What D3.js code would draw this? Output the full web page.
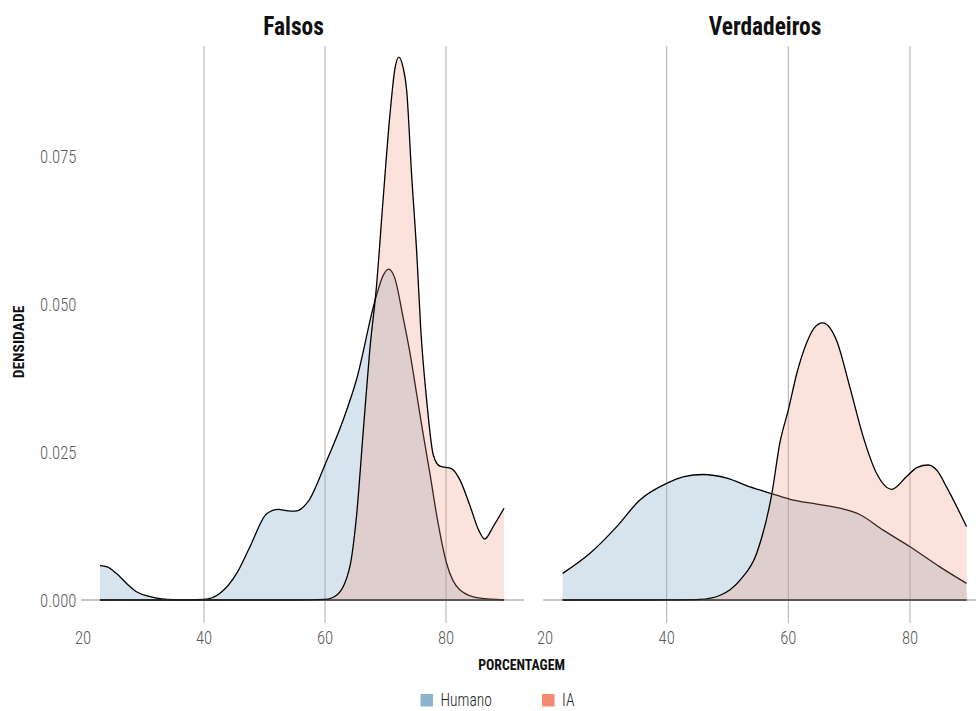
<!DOCTYPE html>
<html><head><meta charset="utf-8">
<script src="https://cdn.jsdelivr.net/npm/d3@7"></script>
<style>
body{margin:0;background:#fff;}
text{font-family:"Roboto Condensed",Roboto,"Liberation Sans Narrow",sans-serif;}
</style></head>
<body><svg id="c" width="976" height="711"></svg>
<script>
const panels = ["Falsos", "Verdadeiros"];
const groups = ["Humano", "IA"];
const groupColors = ["#8eb3cc", "#f58a72"];
const xTicks = [20, 40, 60, 80];
const yTicks = [0, 0.025, 0.05, 0.075];

// Falsos – Humano density
const falsosHumanoX = [22.8,24,25.5,27.2,29,31.1,33,35,37,40,42.6,45.4,47.6,50.4,52.3,53.6,55.0,57.2,60.1,63.0,65.2,68.3,69.6,70.5,71.5,72.9,74.0,75.2,76.2,77.4,78.5,80.1,82.3,85.6,89.6];
const falsosHumanoY = [0.0058,0.0056,0.0045,0.0028,0.0013,0.00056,0.0002,0.00005,0.00003,0.0001,0.0011,0.0045,0.009,0.0146,0.0153,0.0151,0.0150,0.0166,0.0231,0.0304,0.0372,0.0507,0.0548,0.0559,0.0545,0.0478,0.0420,0.0345,0.0282,0.0210,0.0141,0.0062,0.0017,0.0003,0.00002];
// Falsos – IA density
const falsosIAX = [22.8,40,55,60,61.9,64.1,65.2,66.3,67.4,68.5,69.6,70.7,71.6,72.2,72.9,73.5,74.3,75.2,75.8,76.8,77.9,79.0,80.9,82.3,84.0,85.4,86.4,87.8,89.6];
const falsosIAY = [0,0,0,0.0001,0.0008,0.0056,0.0141,0.0282,0.0422,0.0529,0.0676,0.0816,0.0900,0.0917,0.0900,0.0861,0.0721,0.058,0.0462,0.0338,0.0245,0.0226,0.0222,0.0203,0.0158,0.0118,0.0103,0.0124,0.0155];
// Verdadeiros – Humano density
const verdHumanoX = [22.9,27.4,31.8,35.6,40.0,42.7,46.0,49.9,53.7,57.5,60.3,64.7,68.5,71.8,75.6,80.0,84.9,89.3];
const verdHumanoY = [0.0045,0.0079,0.0124,0.0169,0.0197,0.0208,0.0212,0.0206,0.0191,0.0179,0.0170,0.0162,0.0155,0.0144,0.0118,0.0090,0.0056,0.0028];
// Verdadeiros – IA density
const verdIAX = [22.9,35,42,45.5,48.8,52.1,54.8,57.3,58.6,60.0,61.4,63.0,64.3,65.6,66.8,67.9,70.1,72.3,74.5,77.0,79.4,81.2,83.0,84.5,86.0,89.3];
const verdIAY = [0,0,0.00003,0.0001,0.0008,0.0034,0.0079,0.018,0.0265,0.0321,0.0383,0.0434,0.0460,0.0468,0.0460,0.0439,0.0360,0.0276,0.0214,0.0187,0.0208,0.0224,0.0228,0.0218,0.0191,0.0124];

const series = [
  [d3.zip(falsosHumanoX, falsosHumanoY), d3.zip(falsosIAX, falsosIAY)],
  [d3.zip(verdHumanoX, verdHumanoY), d3.zip(verdIAX, verdIAY)]
];

const svg = d3.select("#c");
const yTop = 46, yBase = 600;
const y = d3.scaleLinear().domain([0, 0.075]).range([yBase, 156]);
const panelRanges = [[81, 524], [543, 986]];
const xs = [
  d3.scaleLinear().domain([20, 80]).range([83, 446]),
  d3.scaleLinear().domain([20, 80]).range([545, 910])
];
const fillOpacity = [0.35, 0.25];

// text helper with horizontal condensing
function txt(parent, x, yy, s, opts) {
  return parent.append("text")
    .attr("transform", `translate(${x},${yy}) scale(${opts.sx || 1},1)` + (opts.rot ? ` rotate(${opts.rot})` : ""))
    .attr("text-anchor", opts.anchor || "start")
    .attr("font-size", opts.size)
    .attr("font-weight", opts.weight || 400)
    .attr("fill", opts.fill || "#111")
    .text(s);
}

panels.forEach((p, i) => {
  const x = xs[i];
  const g = svg.append("g");
  // vertical grid lines
  g.selectAll("line.grid").data(xTicks.filter(t => t > 20)).join("line")
    .attr("x1", d => x(d)).attr("x2", d => x(d))
    .attr("y1", yTop).attr("y2", 623)
    .attr("stroke", "#b4b4b4").attr("stroke-width", 1.1);
  // baseline
  g.append("line").attr("x1", panelRanges[i][0]).attr("x2", Math.min(panelRanges[i][1], 976))
    .attr("y1", y(0)).attr("y2", y(0)).attr("stroke", "#c6c6c6").attr("stroke-width", 2);
  // x tick labels
  xTicks.forEach(t => txt(g, x(t), 644, String(t), {size: 19, sx: 0.88, anchor: "middle", weight: 300, fill: "#5a5a5a"}));
  // densities
  series[i].forEach((pts, k) => {
    const area = d3.area().x(d => x(d[0])).y0(y(0)).y1(d => y(d[1])).curve(d3.curveMonotoneX);
    const line = d3.line().x(d => x(d[0])).y(d => y(d[1])).curve(d3.curveMonotoneX);
    g.append("path").datum(pts).attr("d", area)
      .attr("fill", groupColors[k]).attr("fill-opacity", fillOpacity[k]);
    g.append("path").datum(pts).attr("d", line)
      .attr("fill", "none").attr("stroke", "#000").attr("stroke-width", 1.3);
    const ext = d3.extent(pts, d => d[0]);
    g.append("line").attr("x1", x(ext[0])).attr("x2", x(ext[1]))
      .attr("y1", y(0)).attr("y2", y(0)).attr("stroke", "#333").attr("stroke-width", 1.2);
  });
  // panel title
  txt(svg, i === 0 ? 293.5 : 765, 35, p, {size: 26, sx: 0.9, anchor: "middle", weight: 700, fill: "#111"});
});

// y tick labels
yTicks.forEach(t => txt(svg, 76.5, y(t) + 6.5, d3.format(".3f")(t), {size: 19, sx: 0.88, anchor: "end", weight: 300, fill: "#5a5a5a"}));

// axis titles
txt(svg, 23.5, 342, "DENSIDADE", {size: 15.5, sx: 1, anchor: "middle", weight: 700, rot: -90});
txt(svg, 521.5, 670, "PORCENTAGEM", {size: 15, sx: 0.92, anchor: "middle", weight: 700});

// legend
const legX = [420.5, 542];
groups.forEach((gname, k) => {
  svg.append("rect").attr("x", legX[k]).attr("y", 694).attr("width", 12.5).attr("height", 12.5)
    .attr("fill", groupColors[k]);
  txt(svg, legX[k] + 20, 706, gname, {size: 19, sx: 0.82, weight: 300, fill: "#222"});
});
</script></body></html>
